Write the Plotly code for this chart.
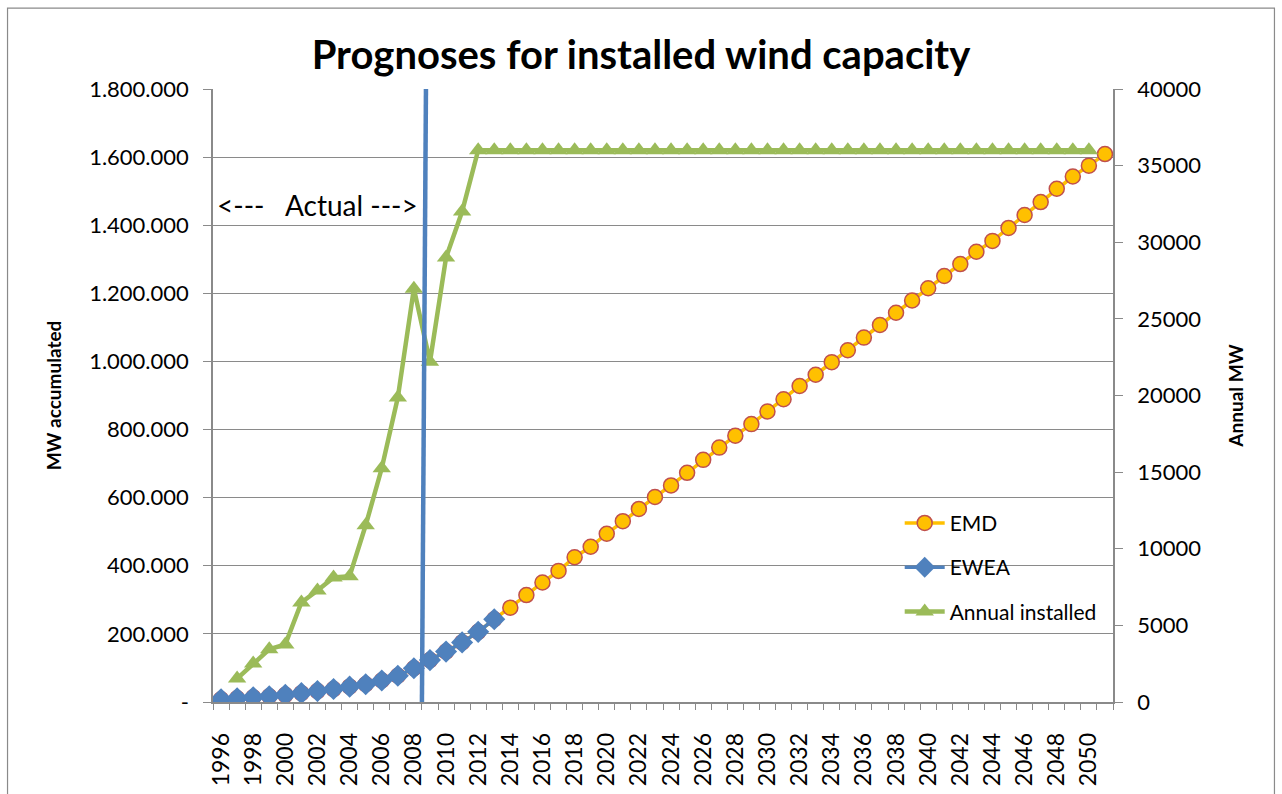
import plotly.graph_objects as go

# Accumulated capacity (MW), one value per year 1996-2051
emd_years = [1996, 1997, 1998, 1999, 2000, 2001, 2002, 2003, 2004, 2005,
             2006, 2007, 2008, 2009, 2010, 2011, 2012, 2013, 2014, 2015,
             2016, 2017, 2018, 2019, 2020, 2021, 2022, 2023, 2024, 2025,
             2026, 2027, 2028, 2029, 2030, 2031, 2032, 2033, 2034, 2035,
             2036, 2037, 2038, 2039, 2040, 2041, 2042, 2043, 2044, 2045,
             2046, 2047, 2048, 2049, 2050, 2051]
emd_mw = [8000, 11000, 14000, 17000, 21000, 26000, 32000, 38000, 45000, 52000,
          63000, 77000, 99000, 123000, 148000, 175000, 206000, 243000, 277000, 314000,
          351000, 385000, 425000, 456000, 494000, 531000, 567000, 602000, 636000, 673000,
          711000, 747000, 782000, 816000, 853000, 889000, 928000, 961000, 998000, 1033000,
          1070000, 1107000, 1143000, 1179000, 1215000, 1251000, 1286000, 1322000, 1354000, 1392000,
          1430000, 1468000, 1507000, 1543000, 1575000, 1609000]

ewea_years = [1996, 1997, 1998, 1999, 2000, 2001, 2002, 2003, 2004, 2005,
              2006, 2007, 2008, 2009, 2010, 2011, 2012, 2013]
ewea_mw = [8000, 11000, 14000, 17000, 21000, 26000, 32000, 38000, 45000, 52000,
           63000, 77000, 99000, 123000, 148000, 175000, 206000, 243000]

# Annual installed capacity (MW), 1997-2050
annual_years = [1997, 1998, 1999, 2000, 2001, 2002, 2003, 2004, 2005, 2006,
                2007, 2008, 2009, 2010, 2011, 2012, 2013, 2014, 2015, 2016,
                2017, 2018, 2019, 2020, 2021, 2022, 2023, 2024, 2025, 2026,
                2027, 2028, 2029, 2030, 2031, 2032, 2033, 2034, 2035, 2036,
                2037, 2038, 2039, 2040, 2041, 2042, 2043, 2044, 2045, 2046,
                2047, 2048, 2049, 2050]
annual_mw = [1530, 2520, 3440, 3760, 6500, 7270, 8130, 8210, 11530, 15250,
             19870, 26970, 22200, 29000, 32000, 36000, 36000, 36000, 36000, 36000,
             36000, 36000, 36000, 36000, 36000, 36000, 36000, 36000, 36000, 36000,
             36000, 36000, 36000, 36000, 36000, 36000, 36000, 36000, 36000, 36000,
             36000, 36000, 36000, 36000, 36000, 36000, 36000, 36000, 36000, 36000,
             36000, 36000, 36000, 36000]

# Divider between actual and forecast years (x in years, y on the annual axis)
divider_x = [2008.5, 2008.75]
divider_y = [0, 40000]

# Axis ticks
x_label_years = [1996, 1998, 2000, 2002, 2004, 2006, 2008, 2010, 2012, 2014,
                 2016, 2018, 2020, 2022, 2024, 2026, 2028, 2030, 2032, 2034,
                 2036, 2038, 2040, 2042, 2044, 2046, 2048, 2050]
left_tickvals = [0, 200000, 400000, 600000, 800000, 1000000, 1200000, 1400000, 1600000, 1800000]
left_ticktext = ["-", "200.000", "400.000", "600.000", "800.000", "1.000.000",
                 "1.200.000", "1.400.000", "1.600.000", "1.800.000"]
right_tickvals = [0, 5000, 10000, 15000, 20000, 25000, 30000, 35000, 40000]

FONT = "Lato, 'Open Sans', sans-serif"
GRAY = "#8a8a8a"

fig = go.Figure()

fig.add_trace(go.Scatter(
    x=emd_years, y=emd_mw, name="EMD", mode="lines+markers", legendgroup="a",
    line=dict(color="#FFC000", width=3.5),
    marker=dict(symbol="circle", size=15, color="#FFC000",
                line=dict(color="#C0504D", width=1.5)),
))
fig.add_trace(go.Scatter(
    x=ewea_years, y=ewea_mw, name="EWEA", mode="lines+markers", legendgroup="b",
    line=dict(color="#4F81BD", width=3.5),
    marker=dict(symbol="diamond", size=17, color="#4F81BD"),
))
fig.add_trace(go.Scatter(
    x=annual_years, y=annual_mw, name="Annual installed", mode="lines+markers",
    legendgroup="c", yaxis="y2",
    line=dict(color="#9BBB59", width=4.5),
    marker=dict(symbol="triangle-up", size=16, color="#9BBB59"),
))
fig.add_trace(go.Scatter(
    x=divider_x, y=divider_y, mode="lines", yaxis="y2", showlegend=False,
    hoverinfo="skip", line=dict(color="#4F81BD", width=4.5),
))

# Chart frame and the "Actual" marker text
fig.add_shape(type="rect", xref="paper", yref="paper",
              x0=-0.2283, x1=1.1794, y0=-0.2, y1=1.1320,
              line=dict(color=GRAY, width=1.2), fillcolor="rgba(0,0,0,0)", layer="below")
fig.add_annotation(text="<---   Actual --->", xref="paper", yref="paper",
                   x=0.1156, y=0.811, showarrow=False, xanchor="center", yanchor="middle",
                   font=dict(family=FONT, size=28, color="#000000"))

fig.update_layout(
    width=1282, height=794,
    margin=dict(l=213, r=169, t=89, b=92),
    paper_bgcolor="white", plot_bgcolor="white",
    font=dict(family=FONT, color="#000000"),
    title=dict(text="<b>Prognoses for installed wind capacity</b>",
               x=0.5, xref="container", xanchor="center",
               y=0.931, yref="container", yanchor="middle",
               font=dict(family=FONT, size=40, color="#000000")),
    showlegend=True,
    legend=dict(x=0.763, y=0.325, xanchor="left", yanchor="top",
                bgcolor="rgba(255,255,255,0)", borderwidth=0,
                font=dict(family=FONT, size=21, color="#000000"),
                tracegroupgap=14, itemwidth=40),
    xaxis=dict(
        range=[1995.5, 2051.5], tickmode="array", tickvals=x_label_years,
        ticktext=[str(y) for y in x_label_years], tickangle=-90,
        ticks="", ticklabelstandoff=20, automargin=False,
        tickfont=dict(family=FONT, size=23, color="#000000"),
        showline=True, linecolor=GRAY, linewidth=1.5,
        showgrid=False, zeroline=False,
        minor=dict(ticks="outside", tick0=1995.5, dtick=1, ticklen=6,
                   tickcolor=GRAY, tickwidth=1.2, showgrid=False),
    ),
    yaxis=dict(
        range=[0, 1800000], tickmode="array", tickvals=left_tickvals, ticktext=left_ticktext,
        ticks="outside", ticklen=8, tickcolor=GRAY, tickwidth=1.2, ticklabelstandoff=10,
        tickfont=dict(family=FONT, size=22, color="#000000"),
        showline=True, linecolor=GRAY, linewidth=1.5,
        showgrid=True, gridcolor=GRAY, gridwidth=1.4, zeroline=False,
        title=dict(text="<b>MW accumulated</b>", standoff=22,
                   font=dict(family=FONT, size=19, color="#000000")),
    ),
    yaxis2=dict(
        range=[0, 40000], overlaying="y", side="right", anchor="x",
        tickmode="array", tickvals=right_tickvals, tickformat="d",
        ticks="outside", ticklen=8, tickcolor=GRAY, tickwidth=1.2, ticklabelstandoff=10,
        tickfont=dict(family=FONT, size=22, color="#000000"),
        showline=True, linecolor=GRAY, linewidth=1.5,
        showgrid=False, zeroline=False,
        title=dict(text="<b>Annual MW</b>", standoff=30,
                   font=dict(family=FONT, size=19, color="#000000")),
    ),
)

fig.write_html("out.html")
